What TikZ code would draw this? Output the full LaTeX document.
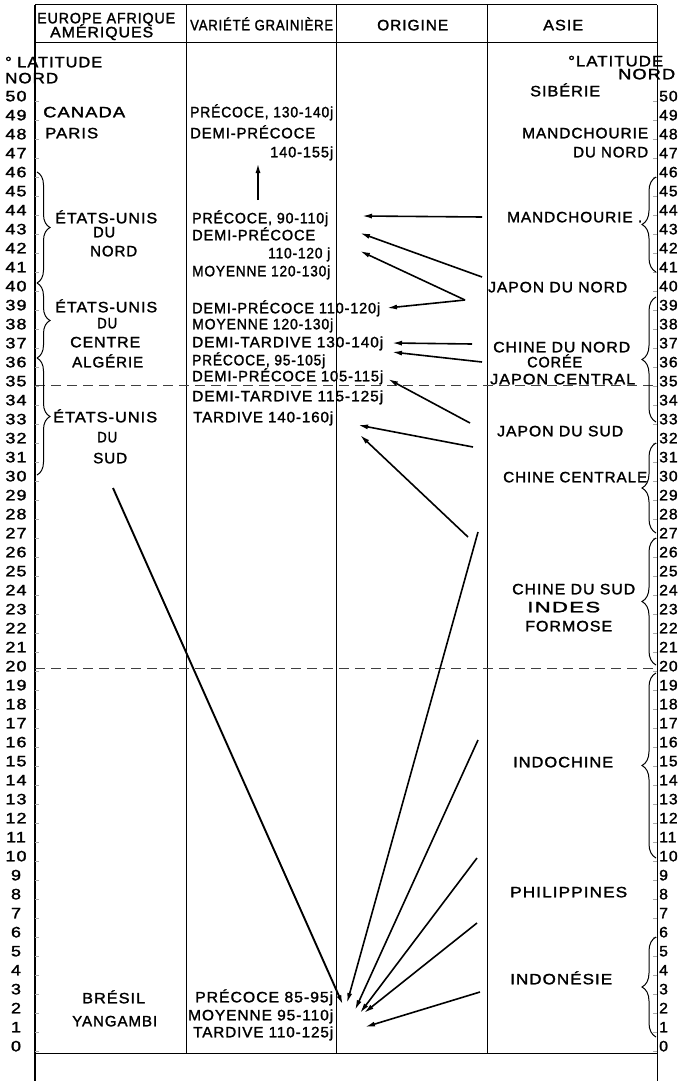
\documentclass[tikz,border=0pt]{standalone}
\usepackage{fontspec}
\setmainfont{Liberation Sans}[LetterSpace=6,FakeBold=1.6]
\usetikzlibrary{arrows.meta,decorations.pathreplacing}
\newcommand{\fitw}[2]{\resizebox{#1pt}{\height}{#2}}
\tikzset{
  lbl/.style={anchor=base west, inner sep=0pt, font=\fontsize{15}{17}\selectfont},
  numl/.style={anchor=base, inner sep=0pt, font=\fontsize{15}{17}\selectfont},
  numr/.style={anchor=base west, inner sep=0pt, font=\fontsize{15}{17}\selectfont},
  tabline/.style={line width=1pt},
  dashline/.style={line width=1pt, black!75, dash pattern=on 10pt off 6pt},
  tickline/.style={line width=0.6pt, black!35},
  arr/.style={line width=1.6pt, -{Latex[length=10pt,width=5pt]}},
  brc/.style={line width=1pt, decorate, decoration={brace, amplitude=#1}},
}
\newcommand{\tx}[5]{\node[lbl] (#1) at (#2,#3+5.3) {\fitw{#4}{#5}};}
\begin{document}
\begin{tikzpicture}[x=1pt,y=-1pt]
\useasboundingbox (0,0) rectangle (677,1081);

% table frame
\draw[tabline] (35,5) -- (657,5);
\draw[tabline] (35,43) -- (657,43);
\draw[tabline] (35,1053) -- (657,1053);
\draw[tabline,line width=1.3pt] (35,5) -- (35,1081);
\draw[tabline] (657,5) -- (657,1081);
\draw[tabline] (186,5) -- (186,1053);
\draw[tabline] (336,5) -- (336,1053);
\draw[tabline] (487,5) -- (487,1053);

% dashed latitude lines (35 and 20)
\draw[dashline] (35,385) -- (657,385);
\draw[dashline] (35,668) -- (657,668);

% latitude numbers and ticks
\foreach \L in {0,...,50} {
  \node[numl] (ln\L) at (16,{1046-19*\L+5.3}) {\scalebox{1.2}[1]{\L}};
  \node[numr] (rn\L) at (659,{1046-19*\L+5.3}) {\scalebox{1.05}[1]{\L}};
  \draw[tickline] (35,{1046-19*\L+5}) -- (39,{1046-19*\L+5});
  \draw[tickline] (653,{1046-19*\L+5}) -- (657,{1046-19*\L+5});
}

% headers
\tx{h1a}{37}{18}{138}{EUROPE AFRIQUE}
\tx{h1b}{50}{32}{103}{AMÉRIQUES}
\tx{h2}{190}{25}{143}{VARIÉTÉ GRAINIÈRE}
\tx{h3}{377}{25}{71}{ORIGINE}
\tx{h4}{543}{25}{40}{ASIE}

% left latitude title
\tx{latl}{5}{62}{97}{° LATITUDE}
\tx{latn}{5}{78}{53}{NORD}

% column 1
\tx{c1a}{43}{112}{82}{CANADA}
\tx{c1b}{45}{133}{53}{PARIS}
\tx{c1c}{55}{218}{102}{ÉTATS-UNIS}
\tx{c1d}{93}{232}{22}{DU}
\tx{c1e}{90}{251}{47}{NORD}
\tx{c1f}{55}{307}{102}{ÉTATS-UNIS}
\tx{c1g}{97}{323}{20}{DU}
\tx{c1h}{70}{342}{70}{CENTRE}
\tx{c1i}{72}{362}{71}{ALGÉRIE}
\tx{c1j}{53}{417}{104}{ÉTATS-UNIS}
\tx{c1k}{97}{437}{20}{DU}
\tx{c1l}{93}{458}{34}{SUD}
\tx{c1m}{82}{998}{63}{BRÉSIL}
\tx{c1n}{72}{1021}{85}{YANGAMBI}

% column 2
\tx{v1}{190}{112}{143}{PRÉCOCE, 130-140j}
\tx{v2}{190}{133}{125}{DEMI-PRÉCOCE}
\tx{v3}{270}{152}{63}{140-155j}
\tx{v4}{192}{218}{136}{PRÉCOCE, 90-110j}
\tx{v5}{192}{235}{123}{DEMI-PRÉCOCE}
\tx{v6}{268}{253}{62}{110-120 j}
\tx{v7}{192}{271}{138}{MOYENNE 120-130j}
\tx{v8}{192}{308}{188}{DEMI-PRÉCOCE 110-120j}
\tx{v9}{192}{324}{141}{MOYENNE 120-130j}
\tx{v10}{192}{342}{191}{DEMI-TARDIVE 130-140j}
\tx{v11}{192}{360}{133}{PRÉCOCE, 95-105j}
\tx{v12}{192}{376}{191}{DEMI-PRÉCOCE 105-115j}
\tx{v13}{192}{396}{191}{DEMI-TARDIVE 115-125j}
\tx{v14}{193}{417}{140}{TARDIVE 140-160j}
\tx{v15}{195}{997}{138}{PRÉCOCE 85-95j}
\tx{v16}{188}{1015}{145}{MOYENNE 95-110j}
\tx{v17}{193}{1032}{140}{TARDIVE 110-125j}

% column 4 (Asie)
\tx{a0}{568}{61}{95}{°LATITUDE}
\tx{a0b}{618}{74}{57}{NORD}
\tx{a1}{530}{91}{70}{SIBÉRIE}
\tx{a2}{522}{133}{126}{MANDCHOURIE}
\tx{a3}{573}{152}{75}{DU NORD}
\tx{a4}{507}{217}{135}{MANDCHOURIE .}
\tx{a5}{488}{287}{139}{JAPON DU NORD}
\tx{a6}{493}{347}{137}{CHINE DU NORD}
\tx{a7}{527}{362}{55}{CORÉE}
\tx{a8}{490}{379}{145}{JAPON CENTRAL}
\tx{a9}{497}{431}{126}{JAPON DU SUD}
\tx{a10}{503}{477}{144}{CHINE CENTRALE}
\tx{a11}{512}{589}{123}{CHINE DU SUD}
\tx{a12}{527}{607}{73}{INDES}
\tx{a13}{525}{626}{87}{FORMOSE}
\tx{a14}{513}{762}{100}{INDOCHINE}
\tx{a15}{510}{892}{117}{PHILIPPINES}
\tx{a16}{510}{979}{102}{INDONÉSIE}

% braces left (tip to the right)
\draw[brc=13] (37,172) -- (37,283);
\draw[brc=13] (37,283) -- (37,358);
\draw[brc=13] (37,358) -- (37,475);
% braces right (tip to the left)
\draw[brc=14] (656,272) -- (656,177);
\draw[brc=14] (656,422) -- (656,297);
\draw[brc=14] (656,533) -- (656,443);
\draw[brc=14] (656,665) -- (656,538);
\draw[brc=14] (656,858) -- (656,673);
\draw[brc=14] (656,1037) -- (656,937);

% arrow end points
\coordinate (s0) at (258,200);  \coordinate (e0) at (258,163);
\coordinate (s1) at (482,217);  \coordinate (e1) at (362,216);
\coordinate (s2) at (482,277);  \coordinate (e2) at (360,233);
\coordinate (s3) at (465,300);  \coordinate (e3) at (360,251);
\coordinate (e4) at (387,308);
\coordinate (s5) at (472,344);  \coordinate (e5) at (392,343);
\coordinate (s6) at (482,362);  \coordinate (e6) at (392,352);
\coordinate (s7) at (470,423);  \coordinate (e7) at (388,379);
\coordinate (s8) at (473,447);  \coordinate (e8) at (358,425);
\coordinate (s9) at (468,537);  \coordinate (e9) at (360,435);
\coordinate (s10) at (478,532); \coordinate (e10) at (347,1003);
\coordinate (s11) at (478,740); \coordinate (e11) at (355,1010);
\coordinate (s12) at (477,858); \coordinate (e12) at (360,1013);
\coordinate (s13) at (477,923); \coordinate (e13) at (364,1013);
\coordinate (s14) at (480,992); \coordinate (e14) at (365,1027);
\coordinate (s15) at (113,488); \coordinate (e15) at (343,1005);

\draw[arr,line width=1.8pt] (s0) -- (e0);
\draw[arr] (s1) -- (e1);
\draw[arr] (s2) -- (e2);
\draw[arr] (s3) -- (e3);
\draw[arr] (s3) -- (e4);
\draw[arr] (s5) -- (e5);
\draw[arr] (s6) -- (e6);
\draw[arr] (s7) -- (e7);
\draw[arr] (s8) -- (e8);
\draw[arr] (s9) -- (e9);
\draw[arr] (s10) -- (e10);
\draw[arr] (s11) -- (e11);
\draw[arr] (s12) -- (e12);
\draw[arr] (s13) -- (e13);
\draw[arr] (s14) -- (e14);
\draw[arr,line width=1.9pt] (s15) -- (e15);
\end{tikzpicture}
\end{document}
